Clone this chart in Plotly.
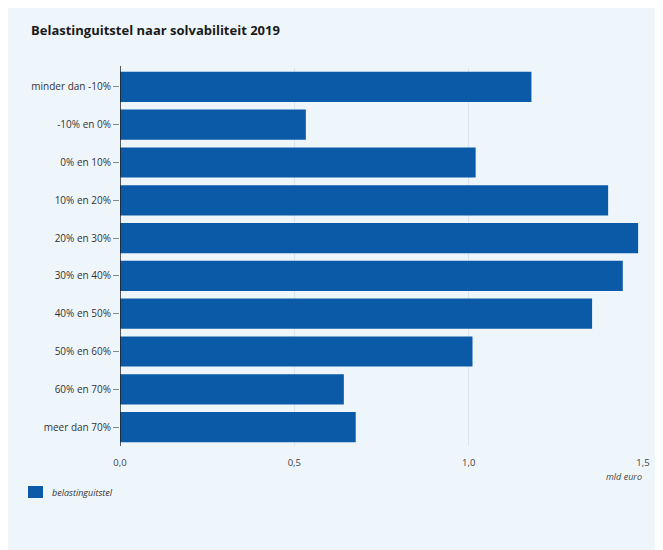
import plotly.graph_objects as go

categories = ["minder dan -10%", "-10% en 0%", "0% en 10%", "10% en 20%", "20% en 30%",
              "30% en 40%", "40% en 50%", "50% en 60%", "60% en 70%", "meer dan 70%"]
values = [1.18, 0.533, 1.02, 1.40, 1.486, 1.442, 1.354, 1.011, 0.642, 0.676]
x_ticks = [0, 0.5, 1.0, 1.5]
x_tick_labels = ["0,0", "0,5", "1,0", "1,5"]
series_name = "belastinguitstel"

BAR = "#0b5aa7"
BG = "#eef6fc"
FONT = "Open Sans"

# page has an 8px body margin; target pixel positions are page coordinates
OFF = 8
W, H = 663 - OFF, 550 - OFF
ml, mr, mt, mb = 120 - OFF, 20, 68 - OFF, 104
pw, ph = W - ml - mr, H - mt - mb

def px_x(p):
    return (p - OFF - ml) / pw

def px_y(p):
    return (H - mb - (p - OFF)) / ph

fig = go.Figure()
fig.add_trace(go.Bar(
    x=values, y=categories, orientation="h",
    marker=dict(color=BAR, line=dict(width=0)),
    name=series_name, showlegend=False,
))

fig.update_layout(
    width=W, height=H,
    margin=dict(l=ml, r=mr, t=mt, b=mb, autoexpand=False),
    paper_bgcolor=BG,
    plot_bgcolor="rgba(0,0,0,0)",
    bargap=0.2,
    font=dict(family=FONT, size=10, color="#333333"),
    showlegend=False,
    xaxis=dict(
        range=[0, 1.5], tickvals=x_ticks, ticktext=x_tick_labels,
        showgrid=True, gridcolor="#d9e6ef", gridwidth=1,
        zeroline=False, showline=False,
        ticks="outside", ticklen=8, tickcolor="rgba(0,0,0,0)",
        tickfont=dict(size=9.5, color="#444444"),
        fixedrange=True,
    ),
    yaxis=dict(
        autorange="reversed",
        showgrid=False, zeroline=False,
        showline=False,
        ticks="outside", ticklen=6, tickcolor="#888888", tickwidth=1,
        tickfont=dict(size=10, color="#333333"),
        fixedrange=True,
    ),
    shapes=[
        dict(type="line", xref="x", yref="paper", layer="above",
             x0=0, x1=0, y0=px_y(446), y1=px_y(66),
             line=dict(color="#222222", width=1.5)),
        dict(type="rect", xref="paper", yref="paper",
             x0=px_x(28), x1=px_x(43), y0=px_y(498), y1=px_y(486),
             fillcolor=BAR, line=dict(width=0)),
    ],
    annotations=[
        dict(text="<b>Belastinguitstel naar solvabiliteit 2019</b>",
             xref="paper", yref="paper", x=px_x(29), y=px_y(30),
             xanchor="left", yanchor="middle", showarrow=False,
             font=dict(size=13, color="#1a1a1a", family=FONT)),
        dict(text="<i>mld euro</i>", xref="paper", yref="paper",
             x=px_x(644), y=px_y(476), xanchor="right", yanchor="middle",
             showarrow=False, font=dict(size=9, color="#444444", family=FONT)),
        dict(text="<i>" + series_name + "</i>", xref="paper", yref="paper",
             x=px_x(50), y=px_y(492), xanchor="left", yanchor="middle",
             showarrow=False, font=dict(size=9, color="#333333", family=FONT)),
    ],
)

fig.write_html("out.html")
